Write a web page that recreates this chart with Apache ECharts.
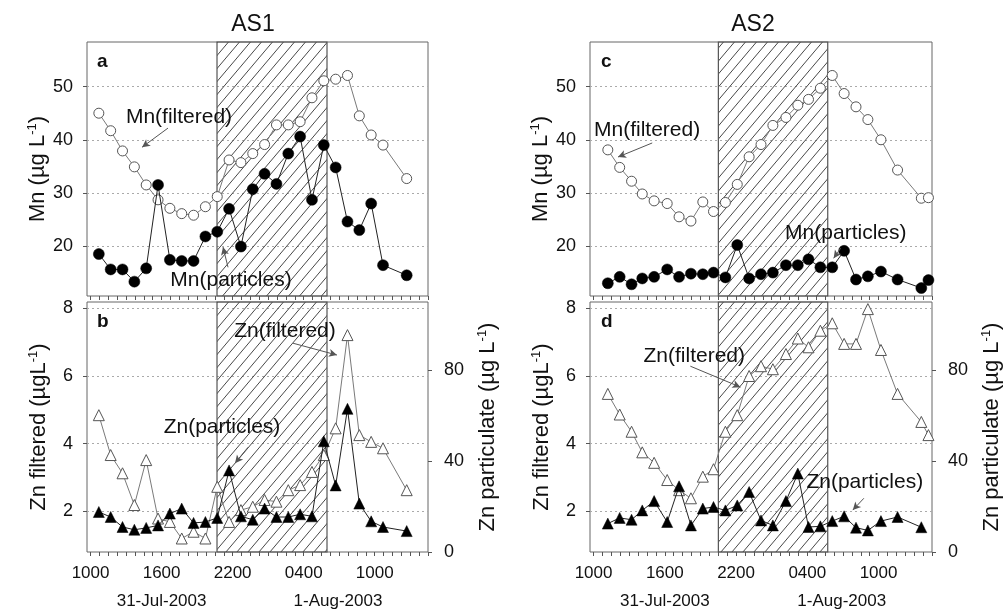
<!DOCTYPE html>
<html><head><meta charset="utf-8">
<script src="https://cdn.jsdelivr.net/npm/echarts@6/dist/echarts.min.js"></script>
<style>html,body{margin:0;padding:0;background:#fff}#c{width:1006px;height:614px}</style>
</head><body><div id="c"></div>
<script>
// ---- data (hours of clock time counted from 00:00 on 31-Jul-2003) ----
const tickHours = [10, 16, 22, 28, 34];
const tickLabels = ['1000', '1600', '2200', '0400', '1000'];
const dateHours = [16, 30.9];
const dateLabels = ['31-Jul-2003', '1-Aug-2003'];
const nightAS1 = [20.68, 29.97];
const nightAS2 = [20.51, 29.72];

const timeAS1 = [10.7, 11.7, 12.7, 13.7, 14.7, 15.7, 16.7, 17.7, 18.7, 19.7, 20.7, 21.7, 22.7,
  23.7, 24.7, 25.7, 26.7, 27.7, 28.7, 29.7, 30.7, 31.7, 32.7, 33.7, 34.7, 36.7];
const mnFilteredAS1 = [45.0, 41.7, 37.9, 34.9, 31.5, 28.7, 27.1, 26.1, 25.8, 27.4, 29.3, 36.2, 35.7,
  37.4, 39.1, 42.8, 42.8, 43.4, 47.9, 51.1, 51.4, 52.1, 44.5, 40.9, 39.0, 32.7];
const mnParticlesAS1 = [18.5, 15.6, 15.6, 13.3, 15.8, 31.5, 17.4, 17.2, 17.2, 21.8, 22.7, 27.0, 19.9,
  30.7, 33.6, 31.7, 37.4, 40.6, 28.7, 39.0, 34.8, 24.6, 23.0, 28.0, 16.4, 14.5];
const znFilteredAS1 = [4.84, 3.66, 3.12, 2.18, 3.51, 1.78, 1.68, 1.19, 1.39, 1.19, 2.72, 1.68, 2.03,
  2.13, 2.33, 2.28, 2.62, 2.77, 3.16, 3.66, 4.45, 7.21, 4.25, 4.05, 3.86, 2.62];
const znParticlesAS1 = [17.6, 15.4, 11.0, 9.8, 10.6, 11.7, 16.9, 19.1, 12.8, 13.2, 15.0, 35.9, 15.7,
  14.2, 19.1, 15.4, 15.4, 16.6, 15.7, 48.7, 29.3, 63.0, 21.3, 13.5, 11.0, 9.2];

const timeAS2 = [11.2, 12.2, 13.2, 14.1, 15.1, 16.2, 17.2, 18.2, 19.2, 20.1, 21.1, 22.1, 23.1,
  24.1, 25.1, 26.2, 27.2, 28.1, 29.1, 30.1, 31.1, 32.1, 33.1, 34.2, 35.6, 37.6, 38.2];
const mnFilteredAS2 = [38.1, 34.8, 32.2, 29.8, 28.5, 28.0, 25.5, 24.7, 28.3, 26.5, 28.2, 31.6, 36.8,
  39.1, 42.7, 44.2, 46.5, 47.6, 49.7, 52.1, 48.7, 46.2, 43.8, 40.0, 34.3, 29.0, 29.1];
const mnParticlesAS2 = [13.0, 14.2, 12.8, 13.9, 14.2, 15.6, 14.2, 14.8, 14.7, 15.0, 14.1, 20.2, 13.9,
  14.7, 15.0, 16.4, 16.4, 17.5, 16.0, 16.0, 19.1, 13.7, 14.3, 15.2, 13.7, 12.1, 13.6];
const znFilteredAS2 = [5.47, 4.86, 4.35, 3.74, 3.43, 2.92, 2.62, 2.38, 3.02, 3.24, 4.35, 4.84, 6.0,
  6.29, 6.2, 6.65, 7.11, 6.85, 7.34, 7.56, 6.95, 6.95, 7.98, 6.77, 5.47, 4.64, 4.25];
const znParticlesAS2 = [12.5, 15.0, 14.2, 18.3, 22.4, 13.2, 28.9, 11.7, 19.1, 19.8, 18.3, 20.5, 26.4,
  13.9, 11.7, 22.4, 34.5, 11.0, 11.3, 13.6, 15.7, 10.7, 9.5, 13.6, 15.4, 10.9, null];

// annotations: [label, textX, textY, arrowFromX, arrowFromY, arrowToX, arrowToY] in data units
const notesA = [['Mn(filtered)', 17.47, 44.3, 16.54, 42.2, 14.35, 38.6],
                ['Mn(particles)', 21.86, 13.6, 21.61, 16.0, 21.19, 19.8]];
const notesB = [['Zn(filtered)', 26.42, 7.33, 27.1, 6.97, 30.81, 6.62],
                ['Zn(particles)', 21.1, 4.49, 23.3, 3.89, 22.2, 3.42]];
const notesC = [['Mn(filtered)', 14.51, 41.85, 14.94, 39.4, 12.06, 36.76],
                ['Mn(particles)', 31.24, 22.45, 30.81, 19.6, 30.22, 17.7]];
const notesD = [['Zn(filtered)', 18.48, 6.59, 18.15, 6.29, 22.37, 5.67],
                ['Zn(particles)', 32.84, 2.86, 32.76, 2.38, 31.83, 2.03]];

// ---- styling / layout ----
const FONT = '"Liberation Sans", Arial, sans-serif';
const X_MIN = 9.7, X_MAX = 38.5;
const minorTicks = [];
for (let k = 0; 10 + 0.75 * k <= X_MAX; k++) minorTicks.push(10 + 0.75 * k);

const hatch = document.createElement('canvas');
hatch.width = 11; hatch.height = 13;
(function () {
  const g = hatch.getContext('2d');
  g.strokeStyle = '#333'; g.lineWidth = 0.9;
  g.beginPath();
  g.moveTo(0, 13); g.lineTo(11, 0);
  g.moveTo(-1, 1.2); g.lineTo(1, -1.2);
  g.moveTo(10, 14.2); g.lineTo(12, 11.8);
  g.stroke();
})();

const grids = [
  { left: 87, top: 42, width: 341, height: 254 },
  { left: 87, top: 302, width: 341, height: 250 },
  { left: 590, top: 42, width: 342, height: 254 },
  { left: 590, top: 302, width: 342, height: 250 }
].map(g => Object.assign(g, { show: true, borderColor: '#666', borderWidth: 1,
  containLabel: false, outerBoundsMode: 'none' }));

const tickLine = { color: '#555', width: 1 };
const labelStyle = { fontFamily: FONT, color: '#111' };

const xAxes = [];
for (let i = 0; i < 4; i++) {
  xAxes.push({
    type: 'value', gridIndex: i, min: X_MIN, max: X_MAX,
    axisLine: { show: false },
    axisTick: { show: true, customValues: minorTicks, length: 4, lineStyle: tickLine },
    axisLabel: Object.assign({ show: i % 2 === 1, customValues: tickHours, fontSize: 17, margin: 13,
      formatter: v => tickLabels[tickHours.indexOf(v)] }, labelStyle),
    splitLine: { show: false }
  });
}
[1, 3].forEach(gi => xAxes.push({
  type: 'value', gridIndex: gi, min: X_MIN, max: X_MAX, position: 'bottom', offset: 28,
  axisLine: { show: false }, axisTick: { show: false }, splitLine: { show: false },
  axisLabel: Object.assign({ customValues: dateHours, fontSize: 17, margin: 13,
    formatter: v => dateLabels[dateHours.indexOf(v)] }, labelStyle)
}));

const nameStyle = (size) => ({ fontFamily: FONT, color: '#111', fontSize: size,
  rich: { sup: { fontFamily: FONT, color: '#111', fontSize: 13, verticalAlign: 'top', lineHeight: 24 },
          n: { fontFamily: FONT, color: '#111', fontSize: size, lineHeight: 24 } } });
const gridDot = { show: true, lineStyle: { type: [2, 3], color: '#aaa', width: 1 } };

function mnAxis(gi) {
  return { type: 'value', gridIndex: gi, min: 10.6, max: 58.4,
    axisLine: { show: false },
    axisTick: { customValues: [20, 30, 40, 50], length: 4, lineStyle: tickLine },
    axisLabel: Object.assign({ customValues: [20, 30, 40, 50], fontSize: 18, margin: 14 }, labelStyle),
    splitLine: gridDot,
    name: '{n|Mn (µg L}{sup|-1}{n|)}', nameLocation: 'middle', nameGap: 36, nameRotate: 90,
    nameTextStyle: nameStyle(22) };
}
function znLeftAxis(gi) {
  return { type: 'value', gridIndex: gi, min: 0.79, max: 8.19,
    axisLine: { show: false },
    axisTick: { customValues: [2, 4, 6, 8], length: 4, lineStyle: tickLine },
    axisLabel: Object.assign({ customValues: [2, 4, 6, 8], fontSize: 18, margin: 14 }, labelStyle),
    splitLine: gridDot,
    name: '{n|Zn filtered (µgL}{sup|-1}{n|)}', nameLocation: 'middle', nameGap: 36, nameRotate: 90,
    nameTextStyle: nameStyle(22) };
}
function znRightAxis(gi) {
  return { type: 'value', gridIndex: gi, min: 0, max: 110, position: 'right',
    axisLine: { show: false },
    axisTick: { customValues: [0, 40, 80], length: 4, lineStyle: tickLine },
    axisLabel: Object.assign({ customValues: [0, 40, 80], fontSize: 18, margin: 16 }, labelStyle),
    splitLine: { show: false },
    name: '{n|Zn particulate (µg L}{sup|-1}{n|)}', nameLocation: 'middle', nameGap: 48, nameRotate: 90,
    nameTextStyle: nameStyle(22) };
}
const yAxes = [mnAxis(0), znLeftAxis(1), znRightAxis(1), mnAxis(2), znLeftAxis(3), znRightAxis(3)];

function pairs(times, vals) { return times.map((t, i) => [t, vals[i]]); }

function notes(list) {
  return {
    markLine: { silent: true, symbol: ['none', 'arrow'], symbolSize: [6, 8], animation: false,
      lineStyle: { color: '#555', width: 1, type: 'solid' }, label: { show: false },
      data: list.map(n => [{ coord: [n[3], n[4]] }, { coord: [n[5], n[6]] }]) },
    markPoint: { silent: true, symbol: 'rect', symbolSize: 1, animation: false,
      itemStyle: { color: 'rgba(0,0,0,0)' },
      label: { show: true, position: 'inside', formatter: '{b}', fontSize: 21, fontFamily: FONT, color: '#111' },
      data: list.map(n => ({ name: n[0], coord: [n[1], n[2]] })) }
  };
}

function openSeries(xi, yi, times, vals, sym, size, extra) {
  return Object.assign({ type: 'line', xAxisIndex: xi, yAxisIndex: yi, data: pairs(times, vals),
    symbol: sym, symbolSize: size, showSymbol: true, z: 3,
    lineStyle: { color: '#7a7a7a', width: 1 },
    itemStyle: { color: '#fff', borderColor: '#555', borderWidth: 1 } }, extra || {});
}
function filledSeries(xi, yi, times, vals, sym, size, extra) {
  return Object.assign({ type: 'line', xAxisIndex: xi, yAxisIndex: yi, data: pairs(times, vals),
    symbol: sym, symbolSize: size, showSymbol: true, z: 4,
    lineStyle: { color: '#222', width: 1 },
    itemStyle: { color: '#000', borderColor: '#000', borderWidth: 0.5 } }, extra || {});
}
function night(range) {
  return { markArea: { silent: true, animation: false,
    itemStyle: { color: { image: hatch, repeat: 'repeat' }, borderColor: '#555', borderWidth: 1.2 },
    data: [[{ xAxis: range[0] }, { xAxis: range[1] }]] } };
}

const series = [
  filledSeries(0, 0, timeAS1, mnParticlesAS1, 'circle', 11, night(nightAS1)),
  openSeries(0, 0, timeAS1, mnFilteredAS1, 'circle', 10, notes(notesA)),
  filledSeries(1, 2, timeAS1, znParticlesAS1, 'triangle', 11, night(nightAS1)),
  openSeries(1, 1, timeAS1, znFilteredAS1, 'triangle', 11, notes(notesB)),
  filledSeries(2, 3, timeAS2, mnParticlesAS2, 'circle', 11, night(nightAS2)),
  openSeries(2, 3, timeAS2, mnFilteredAS2, 'circle', 10, notes(notesC)),
  filledSeries(3, 5, timeAS2, znParticlesAS2, 'triangle', 11, night(nightAS2)),
  openSeries(3, 4, timeAS2, znFilteredAS2, 'triangle', 11, notes(notesD))
];

const titleText = (text, left, top, size, bold, align) => ({ text, left, top, textAlign: align || 'left',
  textStyle: { fontFamily: FONT, fontSize: size, fontWeight: bold ? 'bold' : 'normal', color: '#111' } });

const chart = echarts.init(document.getElementById('c'), null, { renderer: 'canvas' });
chart.setOption({
  animation: false,
  backgroundColor: '#fff',
  title: [
    titleText('AS1', 248, 8, 23, false, 'center'),
    titleText('AS2', 748, 8, 23, false, 'center'),
    titleText('a', 92, 47, 19, true),
    titleText('b', 92, 307, 19, true),
    titleText('c', 596, 47, 19, true),
    titleText('d', 596, 307, 19, true)
  ],
  grid: grids,
  xAxis: xAxes,
  yAxis: yAxes,
  series: series
});
</script>
</body></html>
